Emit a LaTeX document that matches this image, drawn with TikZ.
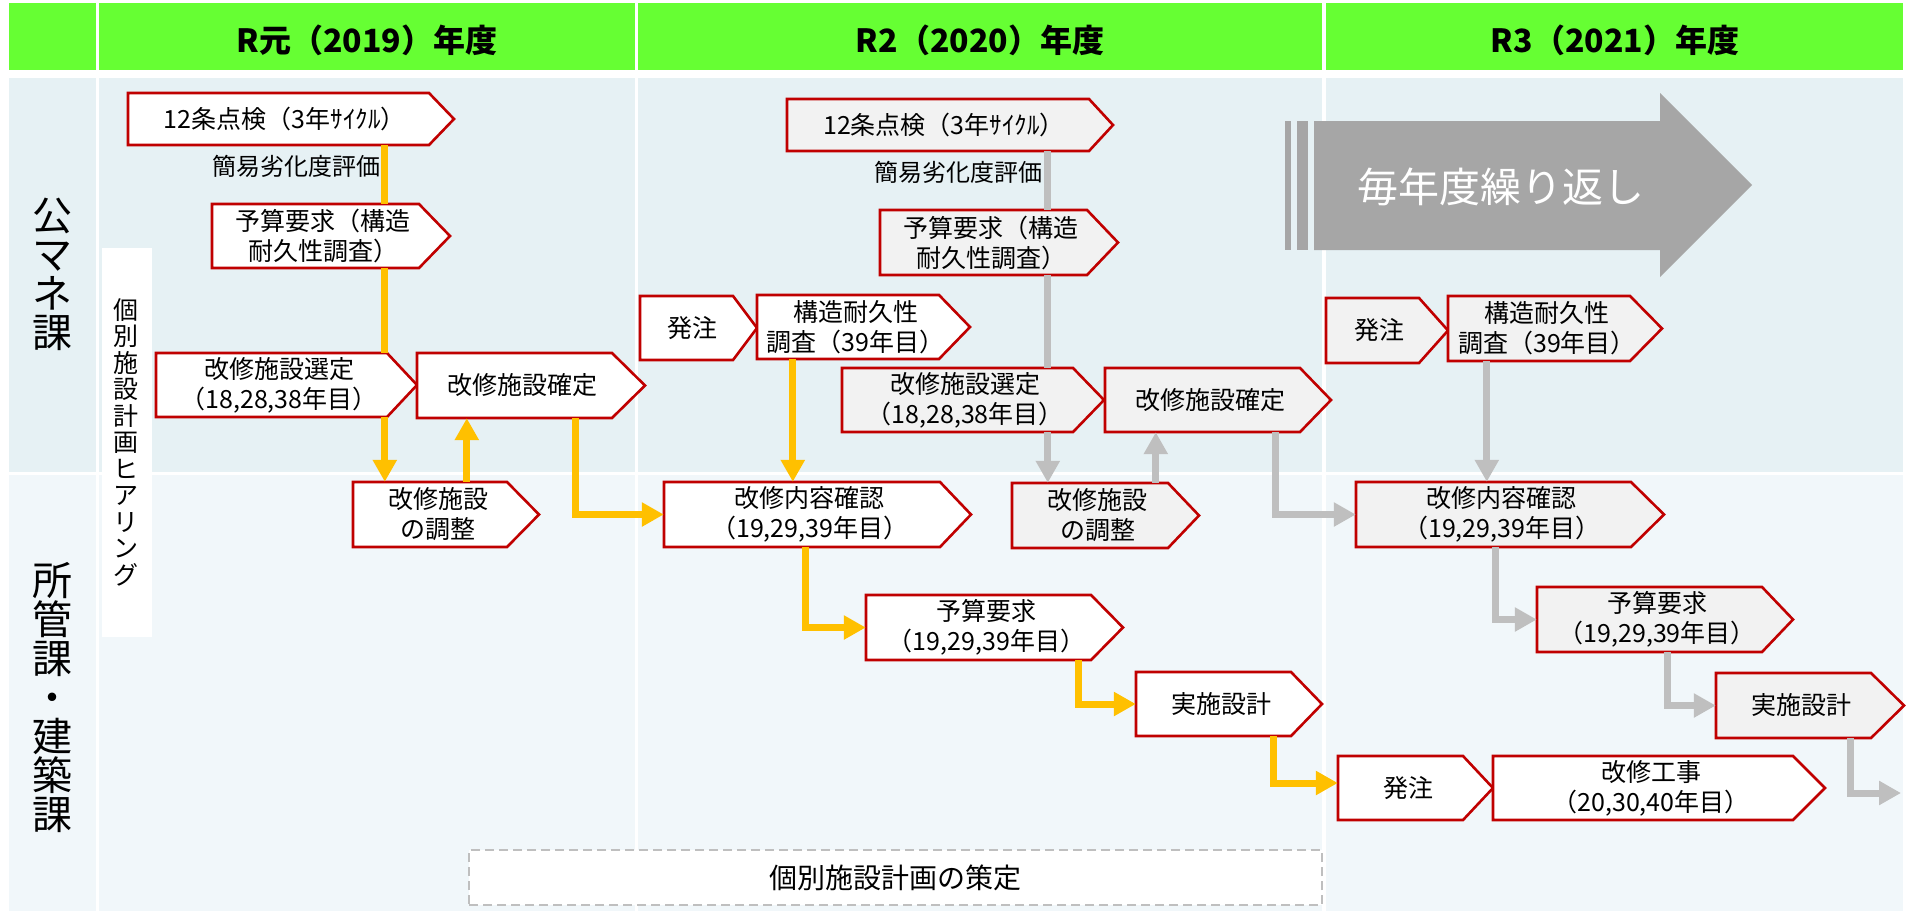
\documentclass[tikz,border=0pt]{standalone}
\usepackage{fontspec}
\setmainfont{Noto Sans CJK JP}
\usetikzlibrary{arrows.meta}
\definecolor{hdrgreen}{RGB}{102,255,51}
\definecolor{upbg}{RGB}{230,241,244}
\definecolor{lowbg}{RGB}{241,247,250}
\definecolor{boxred}{RGB}{192,0,0}
\definecolor{boxgray}{RGB}{242,242,242}
\definecolor{arrowyellow}{RGB}{255,192,0}
\definecolor{arrowgray}{RGB}{191,191,191}
\definecolor{bigarrow}{RGB}{166,166,166}
\definecolor{dashgray}{RGB}{191,191,191}
\tikzset{
  wbox/.style={draw=boxred, fill=white, line width=2.6pt, line join=miter},
  gbox/.style={wbox, fill=boxgray},
  boxtext/.style={inner sep=0pt, align=center, font=\fontsize{25}{30}\selectfont},
  yl/.style={draw=arrowyellow, line width=7pt, line join=miter},
  yla/.style={yl, -{Triangle[width=23pt,length=22pt]}},
  gl/.style={draw=arrowgray, line width=7pt, line join=miter},
  gla/.style={gl, -{Triangle[width=23pt,length=22pt]}},
  hdr/.style={font=\fontsize{32}{36}\selectfont\bfseries, inner sep=0pt},
  lane/.style={font=\fontsize{40}{39}\selectfont, align=center, inner sep=0pt},
  note/.style={font=\fontsize{24}{28}\selectfont, inner sep=0pt},
}
% name, x1, y1, xbody, xtip, y2, style, text
\newcommand\flowbox[8]{%
  \path[#7] (#2,#3) -- (#4,#3) -- (#5,{(#3+#6)/2}) -- (#4,#6) -- (#2,#6) -- cycle;
  \node[inner sep=0pt, minimum width={(#4-#2)*1pt}, minimum height={(#6-#3)*1pt}] (#1) at ({(#2+#4)/2},{(#3+#6)/2}) {};
  \node[boxtext] (#1t) at ({(#2+(#4+#5)/2)/2},{(#3+#6)/2}) {#8};
}
\begin{document}
\begin{tikzpicture}[x=1pt,y=-1pt]
\useasboundingbox (0,0) rectangle (1910,913);
% header
\fill[hdrgreen] (9,3) rectangle (96,70);
\fill[hdrgreen] (99,3) rectangle (635,70);
\fill[hdrgreen] (638,3) rectangle (1322,70);
\fill[hdrgreen] (1326,3) rectangle (1903,70);
% upper lane
\fill[upbg] (9,78) rectangle (96,472);
\fill[upbg] (99,78) rectangle (635,472);
\fill[upbg] (638,78) rectangle (1322,472);
\fill[upbg] (1326,78) rectangle (1903,472);
% lower lane
\fill[lowbg] (9,475) rectangle (96,911);
\fill[lowbg] (99,475) rectangle (635,911);
\fill[lowbg] (638,475) rectangle (1322,911);
\fill[lowbg] (1326,475) rectangle (1903,911);

\node[hdr] (h1) at (367,40) {R元（2019）年度};
\node[hdr] (h2) at (980,40) {R2（2020）年度};
\node[hdr] (h3) at (1615,40) {R3（2021）年度};

\node[lane] (lane1) at (52,274) {公\\マ\\ネ\\課};
\node[lane] (lane2) at (52,698) {所\\管\\課\\・\\建\\築\\課};

\node[fill=white, inner sep=0pt, minimum width=50pt, minimum height=389pt] (hearing) at (127,442.5) {};
\node[font=\fontsize{25}{26.5}\selectfont, align=center, inner sep=0pt] (hearingt) at (126,442) {個\\別\\施\\設\\計\\画\\ヒ\\ア\\リ\\ン\\グ};

% big repeat arrow
\fill[bigarrow] (1285,121) rectangle (1291,250);
\fill[bigarrow] (1297,121) rectangle (1308,250);
\fill[bigarrow] (1314,121) -- (1660,121) -- (1660,93) -- (1752,185) -- (1660,277) -- (1660,250) -- (1314,250) -- cycle;
\node[text=white, font=\fontsize{41}{44}\selectfont, inner sep=0pt] (repeat) at (1501,187) {毎年度繰り返し};

% plan box
\node[draw=dashgray, dash pattern=on 9pt off 5pt, line width=2pt, fill=white, minimum width=853pt, minimum height=55pt, font=\fontsize{28}{32}\selectfont] (plan) at (895.5,877.5) {個別施設計画の策定};

% notes
\node[note] (n1) at (296,166) {簡易劣化度評価};
\node[note] (n2) at (958,172) {簡易劣化度評価};

% year 1
\flowbox{A1}{128}{93}{429}{454}{145}{wbox}{12条点検（3年ｻｲｸﾙ）}
\flowbox{A2}{212}{204}{419}{450}{268}{wbox}{予算要求（構造\\耐久性調査）}
\flowbox{A3}{156}{353}{387}{417}{417}{wbox}{改修施設選定\\（18,28,38年目）}
\flowbox{A4}{417}{353}{612}{645}{418}{wbox}{改修施設確定}
\flowbox{A5}{353}{482}{507}{539}{547}{wbox}{改修施設\\の調整}
% year 2
\flowbox{B1}{787}{99}{1089}{1113}{151}{gbox}{12条点検（3年ｻｲｸﾙ）}
\flowbox{B2}{880}{210}{1087}{1118}{275}{gbox}{予算要求（構造\\耐久性調査）}
\flowbox{B3}{640}{296}{733}{757}{360}{wbox}{発注}
\flowbox{B4}{757}{295}{939}{970}{359}{wbox}{構造耐久性\\調査（39年目）}
\flowbox{B5}{842}{368}{1073}{1104}{432}{gbox}{改修施設選定\\（18,28,38年目）}
\flowbox{B6}{1105}{368}{1300}{1331}{432}{gbox}{改修施設確定}
\flowbox{B7}{664}{482}{940}{971}{547}{wbox}{改修内容確認\\（19,29,39年目）}
\flowbox{B8}{1012}{483}{1168}{1199}{548}{gbox}{改修施設\\の調整}
\flowbox{B9}{866}{595}{1091}{1123}{660}{wbox}{予算要求\\（19,29,39年目）}
\flowbox{B10}{1136}{672}{1291}{1322}{736}{wbox}{実施設計}
% year 3
\flowbox{C1}{1326}{298}{1419}{1448}{363}{gbox}{発注}
\flowbox{C2}{1448}{296}{1630}{1662}{361}{gbox}{構造耐久性\\調査（39年目）}
\flowbox{C3}{1356}{482}{1631}{1664}{547}{gbox}{改修内容確認\\（19,29,39年目）}
\flowbox{C4}{1537}{587}{1762}{1793}{652}{gbox}{予算要求\\（19,29,39年目）}
\flowbox{C5}{1716}{673}{1871}{1904}{738}{gbox}{実施設計}
\flowbox{C6}{1338}{756}{1463}{1493}{820}{wbox}{発注}
\flowbox{C7}{1493}{756}{1793}{1825}{820}{wbox}{改修工事\\（20,30,40年目）}

% yellow connectors
\coordinate (ya) at ([xshift=257pt]A1.south west);
\draw[yl] (ya) -- (ya |- A2.north);
\coordinate (yb) at ([xshift=173pt]A2.south west);
\draw[yl] (yb) -- (yb |- A3.north);
\coordinate (yc) at ([xshift=229pt]A3.south west);
\draw[yla] (yc) -- (yc |- A5.north);
\coordinate (yd) at ([xshift=114pt]A5.north west);
\draw[yla] (yd) -- (yd |- A4.south);
\coordinate (ye) at ([xshift=159pt]A4.south west);
\draw[yla] (ye) |- (B7.west);
\coordinate (yf) at ([xshift=36pt]B4.south west);
\draw[yla] (yf) -- (yf |- B7.north);
\coordinate (yg) at ([xshift=142pt]B7.south west);
\draw[yla] (yg) |- (B9.west);
\coordinate (yh) at ([xshift=213pt]B9.south west);
\draw[yla] (yh) |- (B10.west);
\coordinate (yi) at ([xshift=138pt]B10.south west);
\draw[yla] (yi) |- ([yshift=5pt]C6.west);

% gray connectors
\coordinate (ga) at ([xshift=261pt]B1.south west);
\draw[gl] (ga) -- (ga |- B2.north);
\coordinate (gb) at ([xshift=168pt]B2.south west);
\draw[gl] (gb) -- (gb |- B5.north);
\coordinate (gc) at ([xshift=206pt]B5.south west);
\draw[gla] (gc) -- (gc |- B8.north);
\coordinate (gd) at ([xshift=144pt]B8.north west);
\draw[gla] (gd) -- (gd |- B6.south);
\coordinate (ge) at ([xshift=171pt]B6.south west);
\draw[gla] (ge) |- (C3.west);
\coordinate (gf) at ([xshift=39pt]C2.south west);
\draw[gla] (gf) -- (gf |- C3.north);
\coordinate (gg) at ([xshift=140pt]C3.south west);
\draw[gla] (gg) |- (C4.west);
\coordinate (gh) at ([xshift=131pt]C4.south west);
\draw[gla] (gh) |- (C5.west);
\coordinate (gi) at ([xshift=135pt]C5.south west);
\coordinate (gend) at (1901,793);
\draw[gla] (gi) |- (gend);
\end{tikzpicture}
\end{document}
